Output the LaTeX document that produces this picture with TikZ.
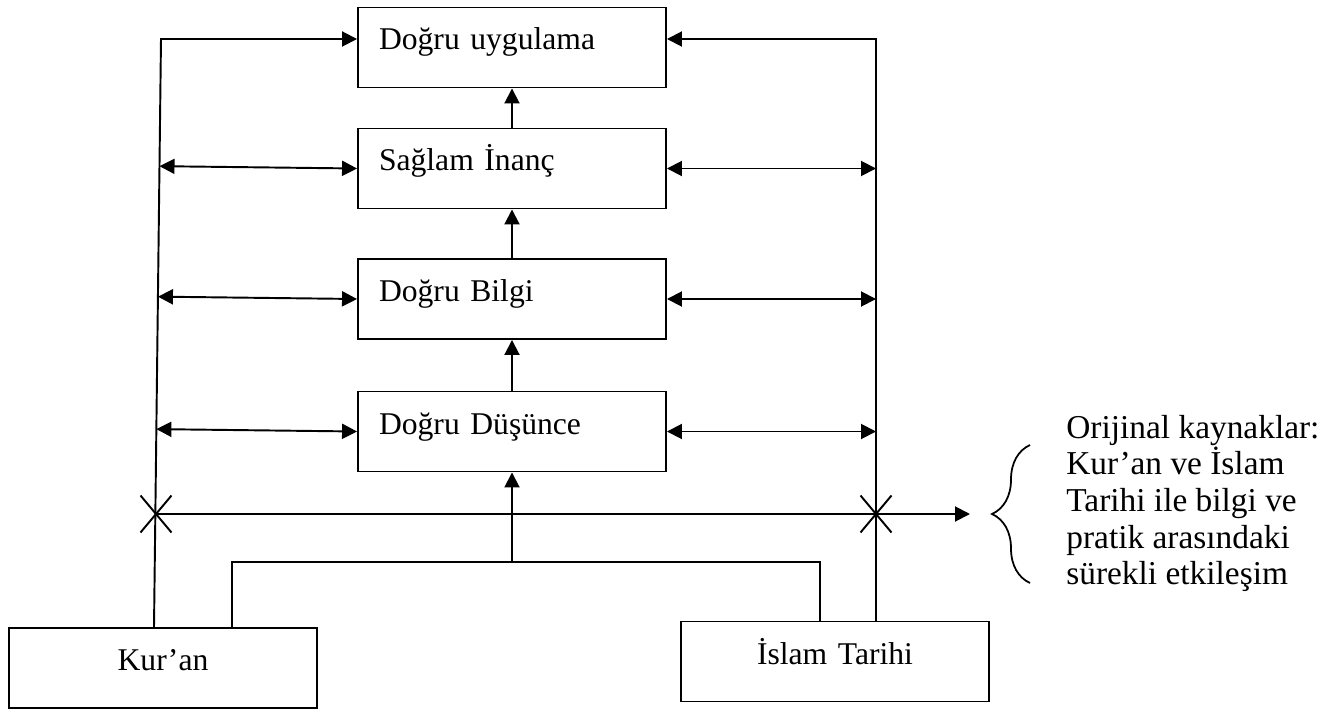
\documentclass[tikz,border=0pt]{standalone}
\usepackage{fontspec}
\setmainfont{Liberation Serif}
\usepackage{xcolor}
\usepackage{tikz}
\usetikzlibrary{calc,arrows.meta,decorations.pathreplacing}
\tikzset{
  blok/.style={draw=black, line width=1.1pt, minimum height=1.6cm, text width=5.32cm,
    inner xsep=0.42cm, inner ysep=0pt, text height=0.45cm, text depth=0.35cm,
    font=\fontsize{18}{21}\selectfont},
  solyazi/.style={blok, align=left},
  ortayazi/.style={blok, align=center},
  hat/.style={draw=black, line width=1.1pt},
  ok/.style={hat, -{Triangle[length=0.3cm, width=0.3cm]}},
  cift/.style={hat, {Triangle[length=0.3cm, width=0.3cm]}-{Triangle[length=0.3cm, width=0.3cm]}},
  aciklama/.style={align=left, inner sep=0pt, font=\fontsize{19}{20.9}\selectfont},
}

\begin{document}
\begin{tikzpicture}
  \useasboundingbox (0,0) rectangle (26.5,14.22);

  % basamaklar
  \node[solyazi] (uyg) at (10.24,13.27) {Doğru uygulama};
  \node[solyazi] (inanc) at (10.24,10.85) {Sağlam İnanç};
  \node[solyazi] (bilgi) at (10.24,8.24) {Doğru Bilgi};
  \node[solyazi] (dusunce) at (10.24,5.59) {Doğru Düşünce};

  % kaynaklar
  \node[ortayazi] (kuran) at (3.26,0.86) {Kur’an};
  \node[ortayazi] (islam) at (16.70,0.99) {İslam Tarihi};

  \coordinate (solalt) at ([xshift=-0.18cm]kuran.north);
  \coordinate (solust) at (3.22,13.44);
  \coordinate (sagust) at (17.52,13.44);
  \coordinate (sagalt) at (sagust |- islam.north);
  \coordinate (birles) at (10.24,2.98);
  \coordinate (okucu) at (19.40,3.94);
  \coordinate (xsol) at (3.12,3.94);
  \coordinate (xsag) at (okucu -| sagust);

  \draw[ok] (solalt) -- (solust) -- ([yshift=0.17cm]uyg.west);
  \draw[ok] (sagalt) -- (sagust) -- ([yshift=0.17cm]uyg.east);

  \foreach \a/\b in {dusunce/bilgi, bilgi/inanc, inanc/uyg}
    \draw[ok] (\a.north) -- (\b.south);

  \foreach \b in {inanc, bilgi, dusunce} {
    \draw[cift] ($(solalt)!(\b.west)!(solust)$) -- (\b.west);
    \draw[cift] (\b.east) -- (\b.east -| sagust);
  }

  % kesisen hat
  \draw[ok] (xsol) -- (okucu);
  \foreach \p in {xsol, xsag}
    \draw[hat] ($(\p)+(-0.31,-0.37)$) -- ($(\p)+(0.31,0.37)$)
               ($(\p)+(-0.31,0.37)$) -- ($(\p)+(0.31,-0.37)$);

  \draw[hat] ([xshift=1.38cm]kuran.north) |- (birles) -| ([xshift=-0.30cm]islam.north);
  \draw[ok] (birles) -- (dusunce.south);

  % aciklama
  \coordinate (kumealt) at (20.6,2.56);
  \coordinate (kumeust) at (20.6,5.32);
  \draw[draw=black, line width=1pt, decorate, decoration={brace, amplitude=0.76cm}] (kumealt) -- (kumeust);
  \node[aciklama, anchor=west] (not) at (21.32,4.15) {Orijinal kaynaklar:\\Kur’an ve İslam\\Tarihi ile bilgi ve\\pratik arasındaki\\sürekli etkileşim};
\end{tikzpicture}
\end{document}
